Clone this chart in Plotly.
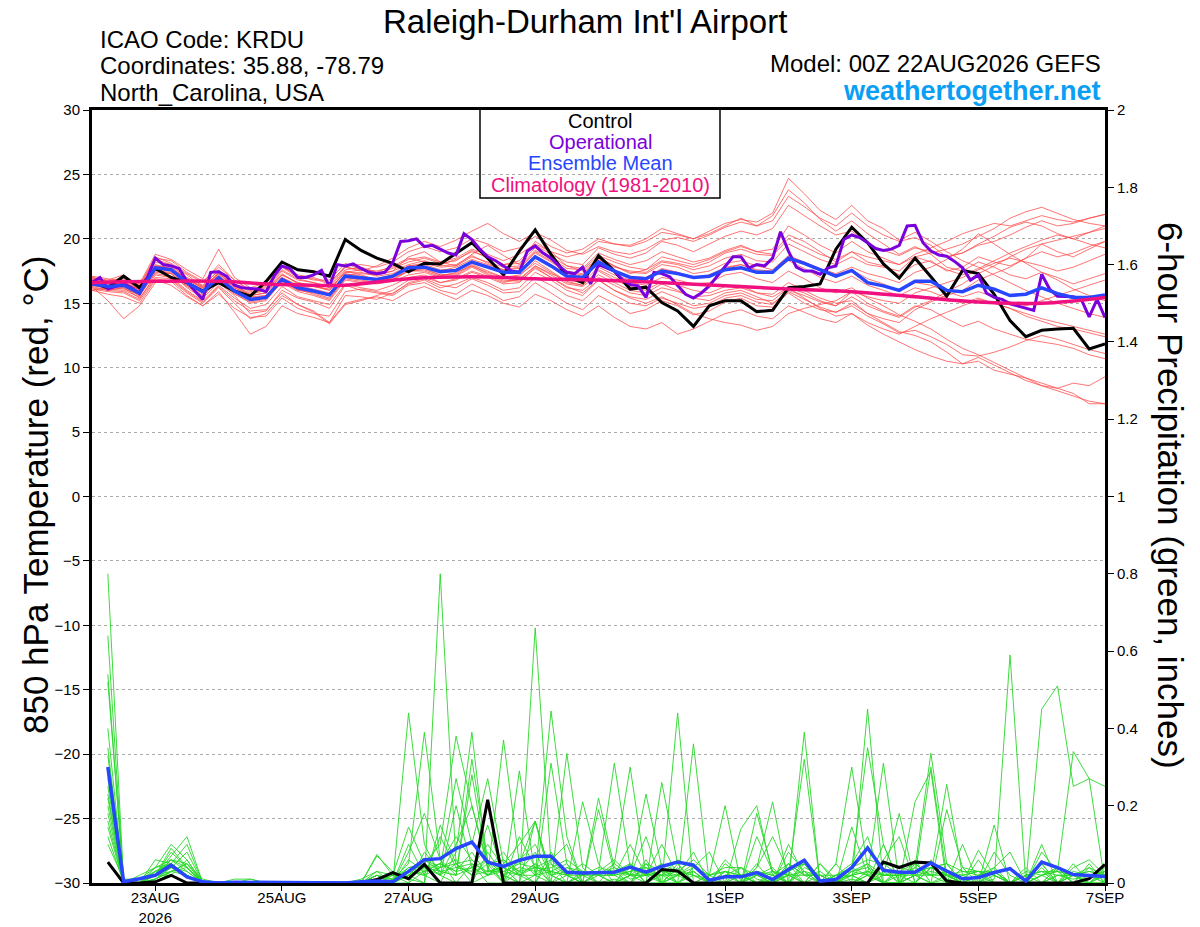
import pandas as pd
import plotly.graph_objects as go

# ---------------- DATA ----------------
tick_dates = ["2026-08-23", "2026-08-25", "2026-08-27", "2026-08-29",
              "2026-09-01", "2026-09-03", "2026-09-05", "2026-09-07"]
tick_labels = ["23AUG<br>2026", "25AUG", "27AUG", "29AUG", "1SEP", "3SEP", "5SEP", "7SEP"]

# 850 hPa temperature, 6-hourly from 00Z 22AUG (65 values)
t_control = [16.6,16.2,17.1,16.2,17.7,17.0,16.6,15.95,16.6,15.95,15.55,16.7,18.2,17.6,17.45,17.1,
             19.95,19.1,18.5,18.1,17.45,18.1,18.05,18.9,19.7,18.5,17.2,19.05,20.7,18.8,17.1,16.6,
             18.7,17.5,16.1,16.25,15.05,14.4,13.2,14.8,15.2,15.2,14.35,14.45,16.2,16.3,16.5,19.2,
             20.9,19.7,18.05,16.95,18.5,17.05,15.55,17.55,17.3,15.7,13.65,12.4,12.9,13.0,13.05,11.45,11.85]
t_mean = [16.5,16.3,16.4,15.8,17.75,17.6,16.6,15.9,17.0,15.95,15.3,15.45,16.85,16.2,15.95,15.65,
          17.1,17.0,16.85,17.1,17.75,17.8,17.45,17.55,18.2,17.8,17.4,17.4,18.6,17.9,17.1,17.0,
          18.2,17.5,17.0,16.9,17.5,17.3,17.0,17.1,17.6,17.75,17.4,17.4,18.5,18.1,17.6,17.1,
          17.55,16.6,16.35,16.0,16.7,16.7,16.0,15.9,16.4,16.1,15.6,15.7,16.2,15.75,15.45,15.45,15.65]
# operational run, 3-hourly (129 values)
t_oper = [16.6,17.0,16.1,16.3,16.5,16.2,15.75,17.0,18.5,18.0,17.9,17.7,16.7,15.95,15.3,17.4,
          17.45,17.1,16.4,16.2,16.15,16.1,15.9,17.1,17.9,17.7,17.0,17.0,17.2,17.55,16.3,18.0,
          17.9,18.05,17.7,17.4,17.3,17.4,18.15,19.8,19.85,20.0,19.4,19.5,19.2,18.9,18.75,20.4,
          19.95,19.2,18.6,18.3,17.9,17.5,17.4,19.05,19.45,18.9,18.5,17.9,17.4,17.3,17.8,16.5,
          18.0,17.75,17.5,16.85,16.45,16.35,15.45,17.4,17.3,17.05,16.35,15.7,15.4,15.8,16.35,17.1,
          17.8,18.6,18.6,17.75,18.0,17.9,18.5,20.55,19.05,17.8,17.5,17.5,17.25,17.75,17.9,19.95,
          20.3,20.1,19.7,19.25,19.1,19.2,19.5,21.0,21.05,19.7,19.05,18.75,18.65,18.25,17.75,16.8,
          17.2,15.8,15.45,15.3,14.95,14.8,14.65,14.45,17.25,16.1,15.55,15.55,15.5,15.3,13.95,15.3,13.9]
# climatology, daily at 00Z (17 values)
t_clim = [16.6,16.7,16.7,16.45,16.4,16.9,17.05,16.9,16.8,16.6,16.35,16.1,15.9,15.5,15.1,15.0,15.45]

# ensemble members temperature (65 values each)
t_m01 = [16.8,16.5,16.9,16.0,18.2,17.9,17.0,16.4,17.5,16.3,15.8,16.0,17.5,16.8,16.6,16.2,
         17.6,17.8,17.4,17.9,18.5,18.2,18.0,18.4,19.0,18.6,18.0,18.3,19.5,18.8,18.2,18.0,
         19.3,18.8,18.5,18.9,19.8,19.5,19.0,19.6,20.2,20.6,20.3,20.8,22.6,21.8,21.0,20.3,
         20.6,19.6,19.1,18.7,19.3,19.0,18.6,18.9,19.5,19.8,20.3,20.9,21.4,21.0,21.2,21.6,21.9]
t_m02 = [16.2,16.0,15.9,15.3,17.2,17.0,16.0,15.2,16.4,15.4,14.6,14.9,16.3,15.5,15.2,14.9,
         16.5,16.2,16.0,16.4,17.0,17.2,16.6,16.8,17.4,17.0,16.5,16.6,17.8,17.0,16.2,16.0,
         17.0,16.4,15.8,15.6,16.2,15.9,15.5,15.6,16.0,16.2,15.8,15.7,16.6,16.0,15.4,15.0,
         15.2,14.2,13.5,12.8,12.5,12.0,11.2,10.3,10.5,9.8,9.5,9.2,8.8,8.4,8.0,7.2,7.2]
t_m03 = [17.0,16.8,17.2,16.3,18.5,18.3,17.4,16.7,17.8,16.8,16.0,16.3,17.8,17.0,16.9,16.5,
         17.9,18.0,17.8,18.2,19.0,19.4,19.0,19.3,20.0,19.6,19.0,19.3,20.2,19.4,18.9,19.2,
         20.0,19.6,19.4,19.8,20.5,20.3,20.0,20.6,21.2,21.5,21.3,22.0,24.7,23.5,22.2,21.5,
         22.6,21.4,20.8,19.9,20.5,19.8,19.0,18.3,17.8,17.2,16.6,16.0,15.5,15.0,14.6,14.2,13.9]
t_m04 = [16.3,15.2,13.8,14.8,16.6,16.8,15.8,15.0,16.2,15.0,13.8,14.2,15.6,14.9,14.4,13.5,
         15.6,15.5,15.3,15.8,16.5,16.8,16.2,16.5,17.0,16.6,16.0,16.2,17.4,16.8,16.0,15.6,
         16.8,16.0,15.5,15.3,15.9,15.4,14.8,15.0,15.6,15.8,15.3,15.2,16.2,15.8,15.2,14.8,
         15.9,15.0,14.4,14.0,14.8,14.5,13.8,13.2,13.6,13.0,12.6,12.2,12.0,11.8,11.5,11.0,10.7]
t_m05 = [17.1,16.9,16.7,16.5,18.8,18.4,17.6,16.9,19.2,17.0,16.2,16.6,17.9,17.1,16.8,16.8,
         18.1,17.6,17.2,17.5,18.6,19.0,18.2,17.9,18.8,19.5,18.7,18.0,19.8,19.0,17.9,17.5,
         18.5,17.9,17.3,17.6,18.6,18.3,18.0,18.4,19.0,19.4,19.0,18.8,20.3,19.8,19.0,18.2,
         19.0,18.2,17.9,17.2,18.0,18.3,17.5,17.8,18.6,18.2,17.9,18.5,19.6,19.0,18.6,19.2,19.8]
t_m06 = [16.0,16.2,16.3,15.6,17.4,17.3,16.2,15.4,16.6,15.6,14.2,14.4,16.0,15.4,15.1,14.6,
         16.4,16.0,15.8,15.6,16.4,16.6,16.0,15.7,16.5,15.9,15.2,15.5,16.6,15.8,15.0,14.5,
         15.6,15.0,14.2,14.5,15.2,14.8,14.1,14.4,15.1,15.4,14.8,14.7,15.8,15.0,14.5,14.3,
         15.0,14.2,13.8,13.5,14.5,15.1,15.6,16.0,16.8,17.3,17.8,18.5,19.0,18.6,18.9,19.4,19.8]
t_m07 = [16.7,16.4,16.5,15.9,17.9,17.6,16.8,16.2,17.2,16.1,15.5,15.6,17.0,16.4,16.1,15.8,
         17.2,17.3,17.2,17.5,18.0,18.3,17.9,18.0,18.7,18.1,17.6,17.8,19.0,18.3,17.5,17.3,
         18.4,17.8,17.5,17.4,18.2,18.0,17.6,17.9,18.5,18.8,18.3,18.2,19.6,19.0,18.4,18.0,
         18.6,18.0,17.8,17.5,18.6,18.9,19.2,19.6,20.2,20.8,21.6,22.1,22.45,22.0,21.5,21.2,21.0]
t_m08 = [16.4,16.1,16.0,15.5,17.6,17.3,16.3,15.6,16.8,15.8,15.0,15.2,16.7,16.0,15.8,15.4,
         17.0,16.8,16.6,16.8,17.5,17.6,17.2,17.3,18.0,17.5,17.0,17.1,18.3,17.5,16.7,16.4,
         17.6,17.0,16.6,16.4,17.0,16.8,16.5,16.6,17.2,17.4,16.9,16.6,17.5,16.9,16.2,15.8,
         16.2,15.4,14.8,14.1,13.6,13.0,12.2,11.5,11.0,10.4,9.8,9.2,8.6,8.4,8.8,8.6,9.3]
t_m09 = [16.6,16.4,16.6,15.8,17.8,17.7,16.7,16.0,17.1,16.0,15.4,15.6,17.0,16.3,16.0,15.7,
         17.3,17.1,16.9,17.2,17.9,18.0,17.6,17.6,18.3,17.9,17.5,17.5,18.7,18.0,17.3,17.1,
         18.3,17.6,17.1,17.0,17.6,17.4,17.0,17.2,17.8,18.0,17.6,17.5,18.6,18.2,17.7,17.3,
         17.8,17.3,17.0,16.6,17.4,17.8,18.4,19.2,20.4,19.6,18.8,18.1,17.4,16.8,16.1,15.6,15.2]
t_m10 = [16.1,15.9,15.8,15.2,16.9,16.7,15.6,14.8,15.9,14.3,12.6,13.2,14.8,14.2,13.9,13.5,
         15.0,15.3,15.5,15.2,15.9,16.3,15.8,15.3,16.0,15.6,15.0,14.7,15.7,15.2,14.5,14.0,
         14.8,13.9,13.2,13.0,13.5,12.6,13.0,13.6,14.2,14.5,14.0,13.8,14.8,14.3,13.8,13.5,
         14.2,13.5,13.0,12.6,13.2,13.8,14.3,14.8,15.3,15.0,14.6,14.2,13.8,13.5,13.2,12.9,12.6]
t_m11 = [16.9,16.7,16.8,16.2,18.4,18.0,17.2,16.3,17.6,16.5,15.9,16.2,17.6,16.9,16.6,16.3,
         17.8,17.5,17.9,18.5,19.3,19.8,19.4,19.9,20.6,21.2,20.4,19.8,20.5,19.9,19.1,18.8,
         19.4,19.0,18.8,19.2,19.9,20.1,19.8,20.3,20.9,21.3,21.0,21.4,23.3,22.5,21.6,21.0,
         22.0,21.0,20.3,19.8,20.1,19.5,18.6,18.9,19.6,20.2,20.9,21.3,21.0,20.4,20.0,20.5,21.0]
t_m12 = [16.5,16.2,16.1,15.7,17.5,17.4,16.4,15.7,16.7,15.7,15.1,15.3,16.6,15.9,15.6,15.2,
         16.8,16.6,16.5,16.7,17.2,17.4,17.0,17.1,17.8,17.2,16.7,16.8,17.9,17.2,16.5,16.3,
         17.2,16.6,16.0,15.8,16.5,16.0,15.4,15.2,15.8,16.0,15.5,15.0,15.9,15.3,14.7,14.3,
         14.8,14.0,13.4,12.7,12.9,12.4,11.8,11.0,10.9,11.2,11.6,12.1,12.5,12.2,11.8,11.4,11.1]
t_m13 = [16.7,16.6,16.4,16.1,17.9,17.8,16.9,16.2,17.3,16.4,15.6,15.8,17.2,16.6,16.3,16.1,
         17.4,17.6,17.5,17.8,18.4,18.6,18.2,18.5,19.2,18.8,18.3,18.8,19.6,19.0,18.6,18.9,
         19.8,19.6,19.5,20.0,20.8,20.4,20.0,20.4,21.0,21.6,21.0,21.8,23.8,22.8,21.5,20.6,
         21.4,20.4,19.6,18.8,19.4,18.8,17.8,17.5,18.2,17.8,17.2,16.9,17.4,17.0,16.5,16.9,17.3]
t_m14 = [16.0,15.7,15.5,15.0,16.8,16.4,15.5,14.8,15.7,14.6,13.9,14.0,15.4,14.6,14.2,14.0,
         15.9,16.1,15.9,15.7,16.6,16.9,16.4,16.2,16.9,16.4,15.8,15.9,17.0,16.4,15.6,15.2,
         16.3,15.6,15.0,14.8,15.4,15.0,14.6,14.8,15.4,15.6,15.1,14.9,16.0,15.6,15.1,14.8,
         15.5,14.8,14.3,13.9,14.7,15.2,15.9,16.5,17.3,17.9,18.6,19.2,19.6,19.9,20.2,20.5,20.8]
t_m15 = [16.8,16.5,16.7,16.0,18.0,17.7,16.9,16.1,17.4,16.2,15.7,16.0,17.3,16.5,16.3,16.0,
         17.5,17.2,16.8,17.1,17.7,17.9,17.5,17.8,18.4,18.0,17.6,17.7,18.9,18.2,17.4,17.2,
         18.6,17.9,17.4,17.3,18.0,17.8,17.3,17.5,18.1,18.3,17.9,17.6,18.7,18.2,17.6,17.0,
         17.6,16.9,16.5,16.0,16.6,16.4,15.9,15.5,15.9,15.5,15.1,14.8,15.2,15.6,16.0,16.4,16.8]
t_m16 = [16.6,16.3,16.2,15.6,17.3,17.1,16.4,15.5,16.9,15.9,15.2,15.4,16.8,16.1,15.7,15.3,
         16.9,16.7,16.7,17.0,17.5,17.5,17.1,17.4,17.9,17.4,17.0,17.2,18.1,17.4,16.6,16.4,
         17.5,16.8,16.3,16.0,16.7,16.4,16.0,15.8,16.3,16.4,15.8,15.5,16.2,15.4,14.6,14.0,
         14.2,13.3,12.6,12.0,11.4,10.9,10.5,10.3,10.8,10.2,9.6,9.0,8.6,8.2,7.8,7.4,7.2]
t_m17 = [17.0,16.7,17.0,16.4,18.6,18.1,17.3,16.6,18.0,16.8,16.0,16.4,17.8,17.2,17.0,16.6,
         17.8,17.6,17.3,17.7,18.2,18.5,18.1,18.3,19.1,18.5,18.0,18.1,19.3,18.6,17.9,17.7,
         18.9,18.4,18.0,18.3,19.0,18.6,18.2,18.5,19.1,19.5,19.0,19.2,21.0,20.3,19.5,18.9,
         19.8,19.0,18.5,18.0,18.6,18.2,17.6,17.2,17.7,18.3,18.9,19.4,19.9,20.3,20.0,19.6,19.3]
t_m18 = [16.3,16.0,16.2,15.4,17.0,16.9,15.9,15.1,16.3,15.2,14.4,14.5,15.8,14.9,14.3,13.4,
         14.9,15.2,15.6,16.0,16.8,17.0,16.6,16.9,17.5,17.1,16.6,16.9,17.9,17.3,16.8,16.6,
         17.8,17.2,16.8,17.0,17.7,17.4,17.0,17.1,17.7,18.0,17.5,17.4,18.3,17.7,17.0,16.6,
         17.1,16.4,16.0,15.6,16.2,15.9,15.4,15.0,15.4,15.0,14.6,14.0,13.6,13.2,13.0,12.7,12.4]
t_m19 = [16.4,16.3,16.5,15.9,17.6,17.5,16.5,15.8,16.9,15.9,15.3,15.4,16.8,16.0,15.9,15.6,
         17.0,16.9,16.8,16.9,17.5,17.7,17.2,17.2,17.9,17.3,16.8,16.7,17.7,17.0,16.3,15.8,
         16.8,16.0,15.4,15.0,15.5,14.9,14.2,13.8,13.5,13.3,12.9,13.2,14.2,14.6,14.9,15.2,
         15.9,15.5,15.2,15.0,15.8,16.2,16.6,17.0,17.6,18.1,18.5,18.2,17.9,17.5,17.8,18.3,18.8]
t_m20 = [16.9,16.6,16.6,16.1,17.9,17.7,16.9,16.3,17.3,16.2,15.6,15.8,17.2,16.6,16.4,16.0,
         17.4,17.4,17.1,17.3,17.9,18.1,17.8,17.9,18.6,18.2,17.8,17.9,19.1,18.5,17.7,17.6,
         18.7,18.2,17.8,17.6,18.3,18.1,17.8,18.2,18.9,19.2,18.8,18.7,20.0,19.4,18.8,18.4,
         19.0,18.6,18.3,18.0,18.8,19.3,19.8,20.4,20.8,21.2,21.0,21.4,21.8,21.5,21.3,21.6,21.9]

# 6-hour precipitation (inches), periods ending 06Z 22AUG ... 00Z 7SEP (64 values)
p_control = [0.054,0,0,0.003,0.02,0,0,0,0,0,0,0,0,0,0,0,
             0,0.009,0.027,0.011,0.048,0,0,0,0.215,0,0,0,0,0,0,0,
             0,0,0,0.035,0.031,0,0,0,0,0,0,0,0,0,0,0,
             0,0.054,0.04,0.054,0.052,0.005,0,0,0,0,0,0,0,0,0.011,0.048]
p_mean = [0.30,0.003,0.011,0.02,0.046,0.016,0.003,0,0.002,0.002,0,0,0,0,0,0,
          0.003,0.005,0.003,0.03,0.06,0.063,0.089,0.106,0.054,0.043,0.059,0.069,0.069,0.028,0.026,0.026,
          0.028,0.041,0.028,0.043,0.054,0.046,0.007,0.016,0.016,0.027,0.009,0.035,0.059,0.005,0.009,0.04,
          0.091,0.033,0.028,0.028,0.052,0.031,0.011,0.014,0.027,0.037,0.005,0.054,0.04,0.022,0.02,0.017]

p_m01 = [0.80,0,0.01,0.03,0.05,0.02,0,0,0,0,0,0,0,0,0,0,
         0,0,0,0.44,0.10,0.02,0,0.05,0,0,0.03,0.08,0,0,0.02,0,
         0,0.05,0,0,0.02,0.08,0,0,0,0.12,0.03,0,0,0,0,0.03,
         0.02,0,0,0.06,0,0,0,0,0,0,0,0.08,0.03,0,0,0]
p_m02 = [0.64,0,0,0.02,0.08,0.04,0,0,0,0.01,0,0,0,0,0,0,
         0,0.02,0.01,0.05,0.39,0.06,0,0,0.08,0.02,0,0,0.31,0.05,0,0,
         0.01,0,0.06,0,0,0,0.02,0.2,0,0,0,0.08,0.03,0,0,0.01,
         0,0.1,0,0,0.04,0.02,0,0,0.08,0.02,0,0,0,0.05,0,0]
p_m03 = [0.54,0,0.01,0.04,0.1,0.06,0,0,0,0,0,0,0,0,0,0,
         0,0.07,0.03,0.01,0,0.80,0.05,0,0.02,0.06,0.02,0,0.06,0.1,0,0.02,
         0,0,0.03,0,0.05,0,0,0,0.04,0,0.02,0,0.39,0,0,0.04,
         0.35,0.1,0,0.02,0.05,0,0,0,0.01,0.59,0,0.02,0,0,0,0.03]
p_m04 = [0.52,0.01,0,0.06,0.05,0.02,0,0,0,0,0,0,0,0,0,0,
         0,0,0.02,0.03,0.05,0.1,0.38,0.2,0.05,0,0.12,0.04,0,0,0.21,0.05,
         0,0.02,0,0,0.04,0,0,0.05,0.02,0,0,0.05,0,0,0,0,
         0.03,0,0,0.02,0,0.19,0.04,0,0,0,0,0.45,0.51,0.25,0.27,0]
p_m05 = [0.30,0,0,0.02,0.07,0.12,0,0,0,0,0,0,0,0,0,0,
         0,0,0,0.1,0.02,0,0.08,0.39,0.03,0.04,0,0.16,0.02,0,0,0.03,
         0.31,0.04,0,0.02,0,0,0,0,0,0.03,0.02,0,0.06,0,0.05,0.3,
         0.04,0,0.02,0,0.04,0.02,0.01,0,0.04,0.08,0,0,0,0.04,0.06,0.02]
p_m06 = [0.27,0,0,0.02,0.03,0.05,0.01,0,0,0,0,0,0,0,0,0,
         0,0.01,0,0.02,0.06,0.04,0.27,0.1,0.27,0.05,0.03,0,0.08,0.02,0,0,
         0.05,0.3,0.02,0,0,0.04,0.08,0,0.02,0,0.01,0.02,0,0,0.01,0.02,
         0,0.06,0.12,0,0,0.01,0,0.02,0,0,0,0.02,0.03,0.34,0.27,0.25]
p_m07 = [0.23,0,0.02,0.04,0.06,0.03,0,0,0,0,0,0,0,0,0,0,
         0,0.02,0,0.08,0.18,0.06,0.02,0.28,0.04,0,0.06,0.02,0.445,0.12,0,0.03,
         0.02,0,0,0.26,0.05,0,0,0,0.14,0.2,0.02,0,0,0.05,0,0,
         0.45,0,0,0.05,0.02,0,0.04,0.03,0,0,0,0,0.04,0,0,0.02]
p_m08 = [0.18,0,0,0.01,0.04,0.08,0,0,0,0,0,0,0,0,0,0,
         0,0,0,0,0.03,0.05,0.12,0.06,0.02,0.37,0.05,0.16,0,0.335,0.04,0,
         0,0.02,0.23,0.04,0,0.36,0,0,0,0.04,0.21,0,0.03,0,0,0,
         0.02,0.31,0,0,0.06,0.02,0,0,0.03,0,0,0.1,0,0.02,0,0.02]
p_m09 = [0.145,0,0,0.02,0.09,0.04,0,0,0,0,0,0,0,0,0,0,
         0.01,0.03,0.02,0,0.08,0.03,0.02,0.32,0.06,0,0.29,0.02,0.05,0.02,0,0.19,
         0.03,0,0.05,0,0.44,0,0,0.02,0,0.05,0,0.02,0.32,0,0.05,0,
         0,0.02,0.18,0,0.04,0.05,0,0.06,0,0,0,0.05,0,0,0.04,0]
p_m10 = [0.12,0,0,0.03,0.05,0.02,0,0,0,0,0,0,0,0,0,0,
         0,0,0,0.02,0,0.15,0.05,0.02,0.06,0.02,0,0.66,0.05,0,0.03,0,
         0,0.02,0.02,0.03,0,0.03,0,0.06,0.02,0,0,0.1,0.02,0,0,0.145,
         0.02,0,0,0.21,0.29,0,0.1,0,0,0,0,0,0,0.02,0,0.04]
p_m11 = [0.10,0.01,0.01,0.02,0.06,0.05,0,0,0,0,0,0,0,0,0,0,
         0,0.02,0.01,0.04,0.05,0.02,0.2,0.04,0.1,0.04,0,0.02,0,0.04,0.03,0.02,
         0.05,0.02,0.12,0,0.02,0.03,0,0.02,0.04,0.01,0,0.02,0.02,0.03,0,0.02,
         0.05,0,0,0.02,0.3,0.02,0,0,0.02,0,0,0.05,0,0,0.02,0]
p_m12 = [0.35,0,0,0.01,0.04,0.02,0,0,0.01,0.01,0,0,0,0,0,0,
         0,0.074,0.02,0.01,0.04,0.02,0.1,0.2,0.04,0.08,0.02,0.05,0,0.02,0,0.22,
         0.04,0.01,0.02,0.05,0,0.02,0.01,0,0,0.18,0.03,0,0.05,0,0.02,0.05,
         0.12,0,0.04,0.03,0.02,0.255,0.02,0,0.03,0,0,0,0.02,0.02,0,0]
p_m13 = [0.25,0,0,0,0.03,0.05,0,0,0,0,0,0,0,0,0,0,
         0,0.02,0,0.03,0.02,0.12,0.04,0.03,0.15,0.02,0.06,0.1,0.02,0.04,0.02,0.03,
         0.02,0.1,0.02,0.1,0.02,0,0.02,0.04,0.04,0.02,0,0.05,0.02,0.02,0,0.04,
         0.02,0.04,0,0.04,0.336,0.05,0,0,0.15,0,0.02,0,0.04,0.02,0.02,0]
p_m14 = [0.20,0,0,0.02,0.04,0.03,0,0,0,0,0,0,0,0,0,0,
         0,0.01,0,0.04,0.04,0.05,0.03,0.08,0.02,0.05,0.1,0.16,0.02,0,0.02,0.02,
         0.02,0.03,0.04,0,0.02,0.05,0,0.02,0.02,0,0,0.04,0.05,0,0.02,0.02,
         0,0.03,0,0.02,0,0.02,0,0.085,0.02,0,0,0.02,0.04,0,0.05,0]
p_m15 = [0.33,0,0,0.03,0.05,0.02,0,0,0,0,0,0,0,0,0,0,
         0,0.01,0.02,0.145,0.05,0.02,0.05,0.06,0.02,0.04,0.02,0.02,0.03,0.05,0,0.03,
         0.06,0.02,0.05,0.03,0.03,0.02,0,0.03,0,0.04,0.12,0.03,0,0.02,0,0.03,
         0.05,0.02,0.02,0.04,0.02,0.03,0,0.02,0.04,0,0.02,0.03,0.03,0.02,0.03,0.02]
p_m16 = [0.40,0,0,0.01,0.03,0.02,0,0,0,0,0,0,0,0,0,0,
         0,0.03,0,0.02,0.06,0.03,0.04,0.05,0.03,0.03,0.02,0.04,0.03,0.02,0.02,0.03,
         0.03,0.02,0.03,0.02,0.06,0.04,0.02,0.03,0,0.02,0,0.03,0.05,0,0.02,0.04,
         0.06,0.05,0.02,0.03,0.04,0.05,0.03,0.03,0.02,0,0.04,0,0.02,0.01,0.02,0.02]
p_m17 = [0.22,0,0,0.04,0.05,0.1,0,0,0,0,0,0,0,0,0,0,
         0,0,0,0.03,0.02,0.04,0.06,0.02,0.05,0.06,0.03,0.04,0.06,0.02,0.05,0.02,
         0,0.04,0.02,0.05,0.03,0.02,0,0,0,0.02,0.04,0,0.04,0.02,0,0,
         0.02,0,0.03,0.05,0.02,0.02,0,0.02,0.03,0,0.02,0.03,0,0.03,0.02,0.03]
p_m18 = [0.28,0,0,0.02,0.06,0.04,0,0,0,0,0,0,0,0,0,0,
         0,0,0.01,0.02,0.04,0.03,0.02,0.04,0.06,0.02,0.04,0.03,0.04,0.06,0.03,0.02,
         0.04,0.02,0.02,0.03,0.02,0.04,0.02,0.03,0.02,0,0.03,0.02,0,0.05,0.01,0.02,
         0.03,0.02,0.02,0.02,0.03,0.02,0.02,0.03,0.03,0,0,0.04,0,0.02,0.02,0.03]
p_m19 = [0.30,0,0.01,0.02,0.02,0.06,0,0,0,0,0,0,0,0,0,0,
         0,0.02,0,0.06,0.03,0.04,0.05,0.02,0.03,0.04,0.02,0.05,0.02,0.03,0.02,0.04,
         0.03,0.05,0.02,0.02,0.03,0.06,0.02,0,0.02,0.03,0.02,0.05,0.02,0.02,0.02,0.03,
         0.04,0.02,0.03,0.02,0.02,0.03,0.02,0.03,0.02,0,0.02,0.03,0.02,0.02,0.04,0.02]
p_m20 = [0.16,0,0,0.01,0.03,0.04,0,0,0,0,0,0,0,0,0,0,
         0,0,0,0.02,0.03,0.05,0.03,0.04,0.02,0.03,0.05,0.04,0.03,0.02,0.03,0.02,
         0.02,0.03,0.04,0.02,0.02,0.03,0,0.03,0.02,0.02,0.03,0.02,0.03,0.02,0,0.02,
         0.03,0.02,0.02,0.03,0.04,0.02,0.03,0.02,0.03,0,0.03,0.02,0.03,0.02,0.03,0.02]

t_members = [t_m01, t_m02, t_m03, t_m04, t_m05, t_m06, t_m07, t_m08, t_m09, t_m10,
             t_m11, t_m12, t_m13, t_m14, t_m15, t_m16, t_m17, t_m18, t_m19, t_m20]
p_members = [p_m01, p_m02, p_m03, p_m04, p_m05, p_m06, p_m07, p_m08, p_m09, p_m10,
             p_m11, p_m12, p_m13, p_m14, p_m15, p_m16, p_m17, p_m18, p_m19, p_m20]

# ---------------- TIME AXES ----------------
times6 = pd.date_range("2026-08-22 00:00", periods=len(t_control), freq="6h")
times3 = pd.date_range("2026-08-22 00:00", periods=len(t_oper), freq="3h")
timesP = pd.date_range("2026-08-22 06:00", periods=len(p_control), freq="6h")
timesD = pd.date_range("2026-08-22 00:00", periods=len(t_clim), freq="D")

FONT = "Liberation Sans, Arial, Helvetica, sans-serif"

fig = go.Figure()

# precipitation (right axis)
for m in p_members:
    fig.add_trace(go.Scatter(x=timesP[:len(m)], y=m, mode="lines", yaxis="y2",
                             line=dict(color="rgba(40,215,40,0.9)", width=1),
                             hoverinfo="skip", showlegend=False))
fig.add_trace(go.Scatter(x=timesP, y=p_control, mode="lines", yaxis="y2",
                         line=dict(color="black", width=3), hoverinfo="skip", showlegend=False))
fig.add_trace(go.Scatter(x=timesP, y=p_mean, mode="lines", yaxis="y2",
                         line=dict(color="#2846FF", width=3.5), hoverinfo="skip", showlegend=False))

# temperature (left axis)
for m in t_members:
    fig.add_trace(go.Scatter(x=times6[:len(m)], y=m, mode="lines", yaxis="y",
                             line=dict(color="rgba(255,70,70,0.75)", width=1),
                             hoverinfo="skip", showlegend=False))
fig.add_trace(go.Scatter(x=times6, y=t_control, mode="lines", yaxis="y",
                         line=dict(color="black", width=3), hoverinfo="skip", showlegend=False))
fig.add_trace(go.Scatter(x=times3, y=t_oper, mode="lines", yaxis="y",
                         line=dict(color="#7A00DC", width=3), hoverinfo="skip", showlegend=False))
fig.add_trace(go.Scatter(x=times6, y=t_mean, mode="lines", yaxis="y",
                         line=dict(color="#2846FF", width=3.5), hoverinfo="skip", showlegend=False))
fig.add_trace(go.Scatter(x=timesD, y=t_clim, mode="lines", yaxis="y",
                         line=dict(color="#F0107F", width=3.5, shape="spline"),
                         hoverinfo="skip", showlegend=False))

# full-window figure (page body margin removed by post_script below)
W, H = 1200, 927
L, T, R, B = 92, 110, 95, 44
pw, ph = W - L - R, H - T - B


def px(x):  # window pixel x -> paper x
    return (x - L) / pw


def py(y):  # window pixel y -> paper y
    return (H - B - y) / ph


annotations = [
    dict(text="Raleigh-Durham Int'l Airport", x=px(585), y=py(21), font=dict(size=33, color="black")),
    dict(text="ICAO Code: KRDU", x=px(98), y=py(40), xanchor="left", font=dict(size=24, color="black")),
    dict(text="Coordinates: 35.88, -78.79", x=px(98), y=py(66), xanchor="left", font=dict(size=24, color="black")),
    dict(text="North_Carolina, USA", x=px(98), y=py(93), xanchor="left", font=dict(size=24, color="black")),
    dict(text="Model: 00Z 22AUG2026 GEFS", x=px(1103), y=py(63), xanchor="right", font=dict(size=24, color="black")),
    dict(text="<b>weathertogether.net</b>", x=px(1103), y=py(91), xanchor="right", font=dict(size=27, color="#0A9EF5")),
    dict(text="Control", x=px(600), y=py(121), font=dict(size=20, color="black")),
    dict(text="Operational", x=px(600), y=py(142), font=dict(size=20, color="#7A00DC")),
    dict(text="Ensemble Mean", x=px(600), y=py(163), font=dict(size=20, color="#2846FF")),
    dict(text="Climatology (1981-2010)", x=px(600), y=py(185), font=dict(size=20, color="#F0107F")),
    dict(text="850 hPa Temperature (red, °C)", x=px(35), y=py(495), textangle=-90,
         font=dict(size=35, color="black")),
    dict(text="6-hour Precipitation (green, inches)", x=px(1171), y=py(495), textangle=90,
         font=dict(size=35, color="black")),
]
for a in annotations:
    a.setdefault("xanchor", "center")
    a["yanchor"] = "middle"
    a["xref"] = "paper"
    a["yref"] = "paper"
    a["showarrow"] = False
    a["font"]["family"] = FONT

fig.update_layout(
    width=W, height=H,
    margin=dict(l=L, r=R, t=T, b=B, pad=0, autoexpand=False),
    paper_bgcolor="white", plot_bgcolor="white",
    font=dict(family=FONT, color="black"),
    showlegend=False, hovermode=False,
    annotations=annotations,
    shapes=[dict(type="rect", xref="paper", yref="paper",
                 x0=px(480), x1=px(720), y0=py(198), y1=py(109),
                 line=dict(color="black", width=1.5), fillcolor="white", layer="below")],
    xaxis=dict(type="date", range=["2026-08-22 00:00", "2026-09-07 00:00"],
               tickvals=tick_dates, ticktext=tick_labels, automargin=False,
               ticks="outside", ticklen=5, tickwidth=1, tickcolor="black",
               ticklabelstandoff=-6,
               showline=True, linewidth=3, linecolor="black", mirror=True,
               showgrid=False, zeroline=False, tickfont=dict(size=15, family=FONT)),
    yaxis=dict(range=[-30, 30], tickvals=list(range(-30, 31, 5)), automargin=False,
               ticks="outside", ticklen=6, tickwidth=1, tickcolor="black",
               showline=True, linewidth=3, linecolor="black",
               showgrid=True, gridcolor="#AAAAAA", griddash="dot", gridwidth=1,
               zeroline=False, tickfont=dict(size=15, family=FONT)),
    yaxis2=dict(range=[0, 2], overlaying="y", side="right", automargin=False,
                tickvals=[0, 0.2, 0.4, 0.6, 0.8, 1.0, 1.2, 1.4, 1.6, 1.8, 2.0],
                ticktext=["0", "0.2", "0.4", "0.6", "0.8", "1", "1.2", "1.4", "1.6", "1.8", "2"],
                ticks="outside", ticklen=6, tickwidth=1, tickcolor="black",
                showline=True, linewidth=3, linecolor="black",
                showgrid=False, zeroline=False, tickfont=dict(size=15, family=FONT)),
)

fig.write_html("out.html",
               config={"displayModeBar": False, "staticPlot": True},
               post_script="document.body.style.margin='0';document.body.style.overflow='hidden';")
